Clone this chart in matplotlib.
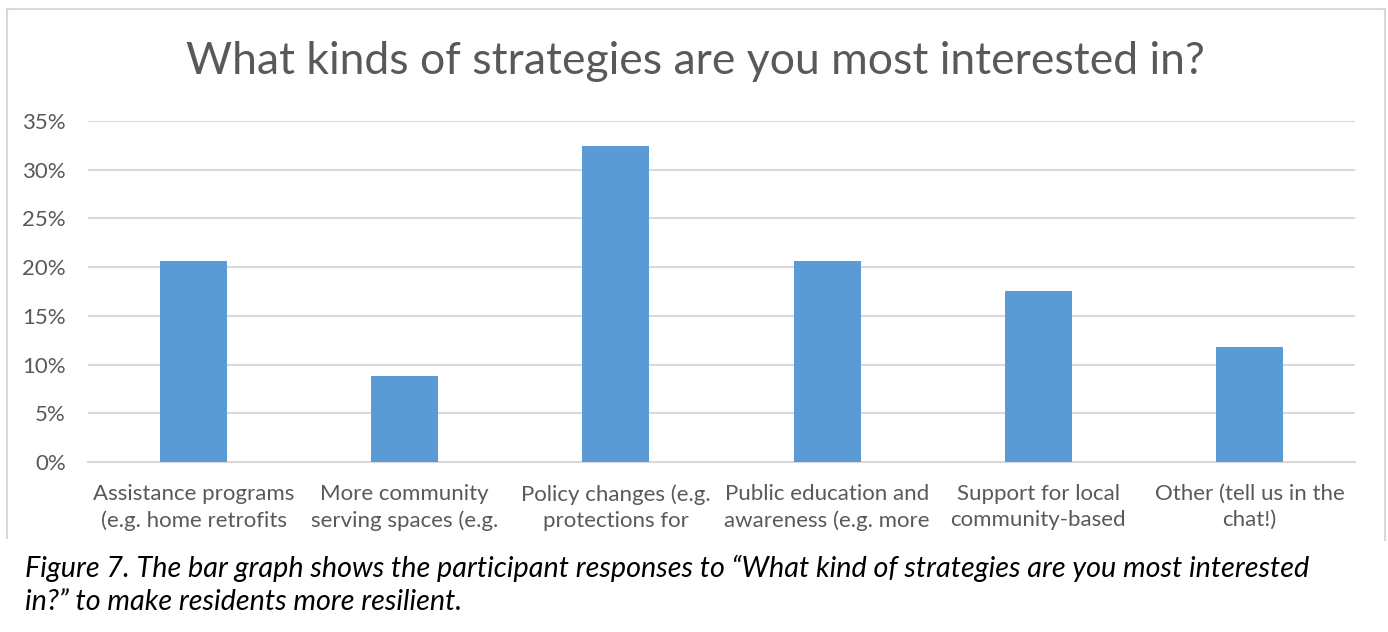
import matplotlib
matplotlib.use("Agg")
import matplotlib.pyplot as plt
from matplotlib.ticker import FuncFormatter
from matplotlib.lines import Line2D

categories = [
    "Assistance programs\n(e.g. home retrofits",
    "More community\nserving spaces (e.g.",
    "Policy changes (e.g.\nprotections for",
    "Public education and\nawareness (e.g. more",
    "Support for local\ncommunity-based",
    "Other (tell us in the\nchat!)",
]
values = [0.206, 0.088, 0.324, 0.206, 0.176, 0.118]
yticks = [0.0, 0.05, 0.10, 0.15, 0.20, 0.25, 0.30, 0.35]

title = "What kinds of strategies are you most interested in?"
caption = ("Figure 7. The bar graph shows the participant responses to \u201cWhat kind of strategies are you most interested\n"
           "in?\u201d to make residents more resilient.")

FONT = ["Lato", "DejaVu Sans"]
W, H = 1388, 632
fig = plt.figure(figsize=(W / 100, H / 100), dpi=100)
fig.patch.set_facecolor("white")

def fx(px):
    return px / W

def fy(py):
    return 1 - py / H

# chart frame (left, top, right)
frame_col = "#d9d9d9"
fig.add_artist(Line2D([fx(7), fx(7)], [fy(9), fy(538)], color=frame_col, lw=1.5, transform=fig.transFigure))
fig.add_artist(Line2D([fx(7), fx(1385)], [fy(9), fy(9)], color=frame_col, lw=1.5, transform=fig.transFigure))
fig.add_artist(Line2D([fx(1385), fx(1385)], [fy(9), fy(540)], color=frame_col, lw=1.5, transform=fig.transFigure))

left, right, top, bottom = 88, 1355, 121, 462
ax = fig.add_axes([fx(left), fy(bottom), fx(right - left), (bottom - top) / H])
x = list(range(len(categories)))
ax.bar(x, values, width=0.318, color="#5b9bd5", zorder=3)
ax.set_xlim(-0.5, len(categories) - 0.5)
ax.set_ylim(0, 0.35)
ax.set_yticks(yticks)
ax.yaxis.set_major_formatter(FuncFormatter(lambda v, p: f"{round(v * 100):d}%"))
ax.set_xticks(x)
ax.set_xticklabels(categories, fontsize=16, color="#595959", family=FONT, linespacing=1.38)
for lab in ax.get_yticklabels():
    lab.set_fontsize(16)
    lab.set_color("#595959")
    lab.set_family(FONT)
ax.grid(axis="y", color="#d9d9d9", lw=1.5, zorder=0)
for s in ["top", "right", "left"]:
    ax.spines[s].set_visible(False)
ax.spines["bottom"].set_color("#d9d9d9")
ax.spines["bottom"].set_linewidth(1.5)
ax.tick_params(axis="both", length=0)
ax.tick_params(axis="y", pad=16)
ax.tick_params(axis="x", pad=16)

fig.text(fx(695), fy(62), title, ha="center", va="center", fontsize=32,
         color="#595959", family=FONT)

fig.text(fx(25), fy(585), caption, ha="left", va="center", fontsize=20.7,
         color="black", style="italic", family=FONT, linespacing=1.33)

fig.savefig("out.png", dpi=100, facecolor="white")
